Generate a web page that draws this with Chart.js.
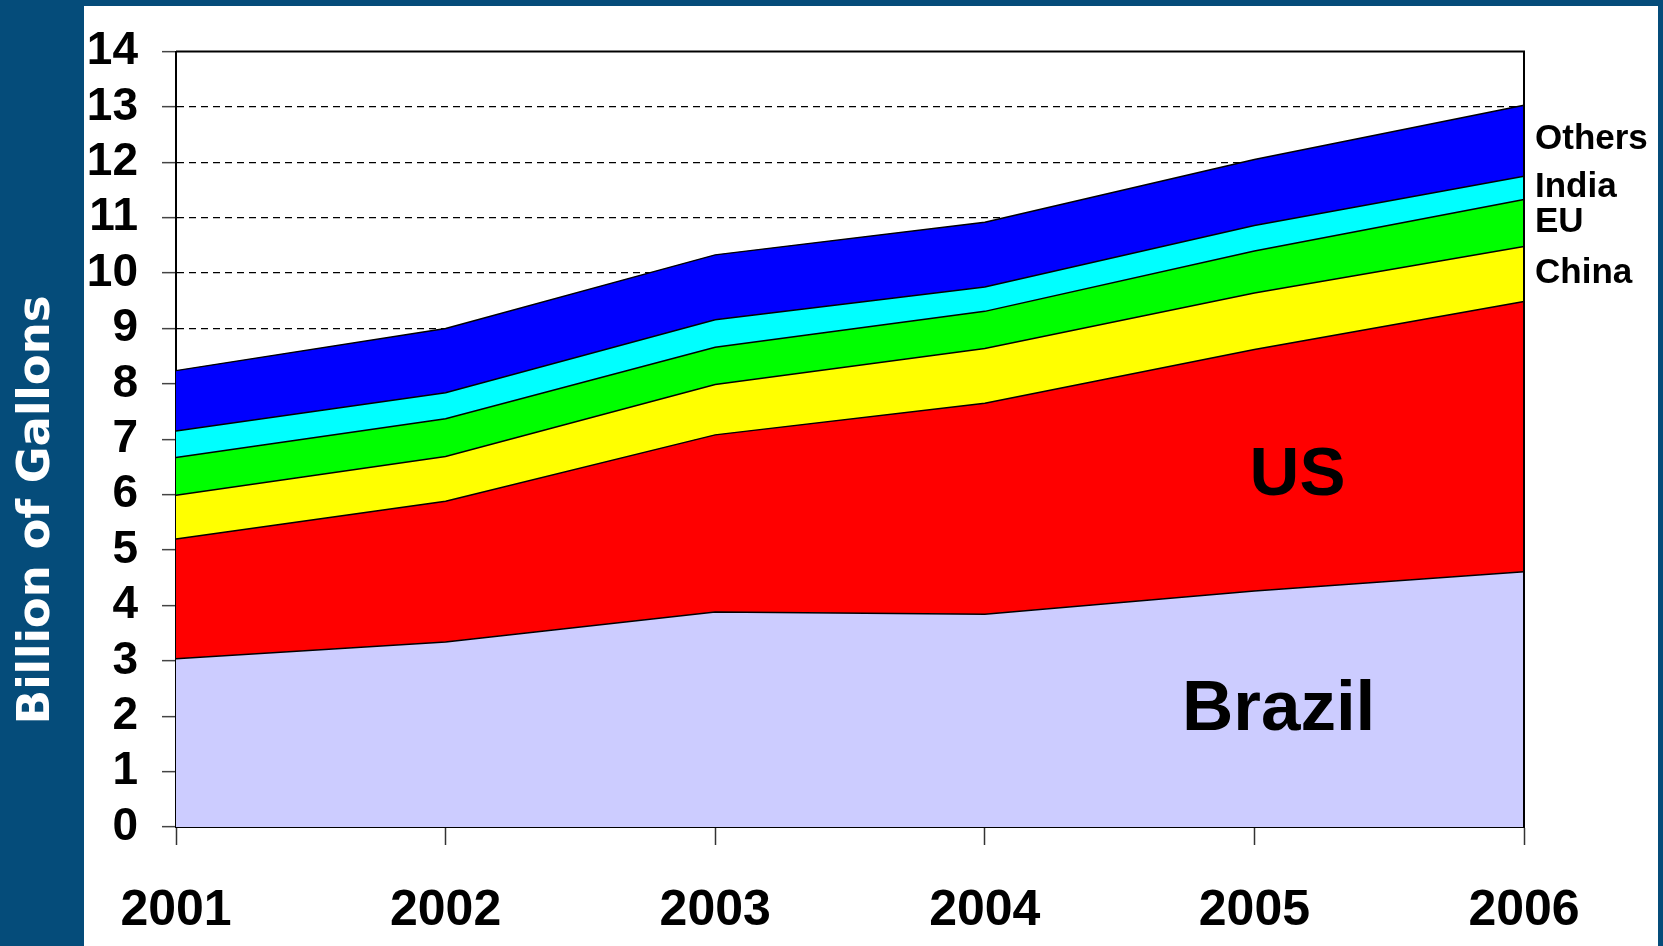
<!DOCTYPE html>
<html>
<head>
<meta charset="utf-8">
<script src="https://cdn.jsdelivr.net/npm/chart.js@4.4.1/dist/chart.umd.min.js"></script>
<style>
    html, body { margin: 0; padding: 0; background: #054c7a; overflow: hidden; }
    #panel { position: absolute; left: 84px; top: 6px; width: 1574px; height: 940px; background: #fff; }
    #chart { position: absolute; left: 0; top: 0; }
</style>
</head>
<body>
<div id="panel"></div>
<canvas id="chart" width="1663" height="946"></canvas>
<script>
// Datos (miles de millones de galones)
const years = ['2001', '2002', '2003', '2004', '2005', '2006'];
const brazil = [3.04, 3.34, 3.88, 3.84, 4.26, 4.61];
const us = [2.16, 2.54, 3.20, 3.81, 4.36, 4.88];
const china = [0.79, 0.81, 0.91, 0.99, 1.02, 0.99];
const eu = [0.68, 0.68, 0.67, 0.67, 0.76, 0.85];
const india = [0.48, 0.47, 0.50, 0.44, 0.46, 0.42];
const others = [1.09, 1.16, 1.17, 1.17, 1.19, 1.28];

const seriesNames = ['Brazil', 'US', 'China', 'EU', 'India', 'Others'];
const seriesColors = ['#ccccff', '#ff0000', '#ffff00', '#00ff00', '#00ffff', '#0000ff'];
const seriesData = [brazil, us, china, eu, india, others];

const yTicks = [0, 1, 2, 3, 4, 5, 6, 7, 8, 9, 10, 11, 12, 13, 14];

// Etiquetas dentro y al lado del grafico
const labelsPlugin = {
    id: 'labels',
    afterDatasetsDraw(chart) {
        const ctx = chart.ctx;
        const area = chart.chartArea;
        const xs = chart.scales.x;
        const ys = chart.scales.y;

        // marco superior y derecho
        ctx.save();
        ctx.strokeStyle = '#000';
        ctx.lineWidth = 2;
        ctx.beginPath();
        ctx.moveTo(area.left, area.top);
        ctx.lineTo(area.right, area.top);
        ctx.lineTo(area.right, area.bottom);
        ctx.stroke();

        // nombres a la derecha (China, EU, India, Others)
        ctx.fillStyle = '#000';
        ctx.textAlign = 'left';
        ctx.textBaseline = 'middle';
        ctx.font = 'bold 35px "Liberation Sans", Arial, sans-serif';
        const last = years.length - 1;
        for (let i = 2; i < seriesNames.length; i++) {
            const top = chart.getDatasetMeta(i).data[last].y;
            const bottom = chart.getDatasetMeta(i - 1).data[last].y;
            ctx.fillText(seriesNames[i], area.right + 11, (top + bottom) / 2 - 1);
        }

        // US y Brazil
        ctx.textAlign = 'center';
        ctx.font = 'bold 69px "Liberation Sans", Arial, sans-serif';
        ctx.fillText('US', xs.getPixelForValue(4.16), ys.getPixelForValue(6.33));
        ctx.font = 'bold 71px "Liberation Sans", Arial, sans-serif';
        ctx.fillText('Brazil', xs.getPixelForValue(4.09), ys.getPixelForValue(2.1));
        ctx.restore();
    }
};

const datasets = seriesNames.map((name, i) => ({
    label: name,
    data: seriesData[i],
    backgroundColor: seriesColors[i],
    borderColor: '#000',
    borderWidth: 1.5,
    pointRadius: 0,
    tension: 0,
    fill: i === 0 ? 'origin' : '-1'
}));

new Chart(document.getElementById('chart'), {
    type: 'line',
    data: { labels: years, datasets: datasets },
    plugins: [labelsPlugin],
    options: {
        responsive: false,
        animation: false,
        layout: { padding: { top: 51, right: 139, left: 0, bottom: 0 } },
        plugins: {
            legend: { display: false },
            tooltip: { enabled: false }
        },
        scales: {
            x: {
                offset: false,
                afterFit: s => { s.height = 119; },
                grid: {
                    drawOnChartArea: false,
                    drawTicks: true,
                    tickLength: 18,
                    tickColor: '#333',
                    tickWidth: 1.5
                },
                border: { color: '#000', width: 2 },
                ticks: {
                    color: '#000',
                    padding: 36,
                    maxRotation: 0,
                    autoSkip: false,
                    font: { family: '"Liberation Sans", Arial, sans-serif', size: 50, weight: 'bold' }
                }
            },
            y: {
                stacked: true,
                min: 0,
                max: 14,
                afterFit: s => { s.width = 176; },
                afterBuildTicks: s => { s.ticks = yTicks.map(v => ({ value: v })); },
                grid: {
                    color: c => (c.tick && (c.tick.value === 0 || c.tick.value === 14)) ? 'rgba(0,0,0,0)' : '#000',
                    lineWidth: 1.3,
                    tickLength: 14,
                    tickColor: '#444',
                    tickWidth: 1.5
                },
                border: { color: '#000', width: 2, dash: [7, 5] },
                ticks: {
                    color: '#000',
                    padding: 24,
                    autoSkip: false,
                    font: { family: '"Liberation Sans", Arial, sans-serif', size: 46, weight: 'bold' }
                },
                title: {
                    display: true,
                    // espacios al final para bajar el texto como en el original
                    text: 'Billion of Gallons         ',
                    color: '#fff',
                    padding: { top: 10, bottom: 0 },
                    font: { family: '"DejaVu Sans", Verdana, sans-serif', size: 45, weight: 'bold' }
                }
            }
        }
    }
});
</script>
</body>
</html>
